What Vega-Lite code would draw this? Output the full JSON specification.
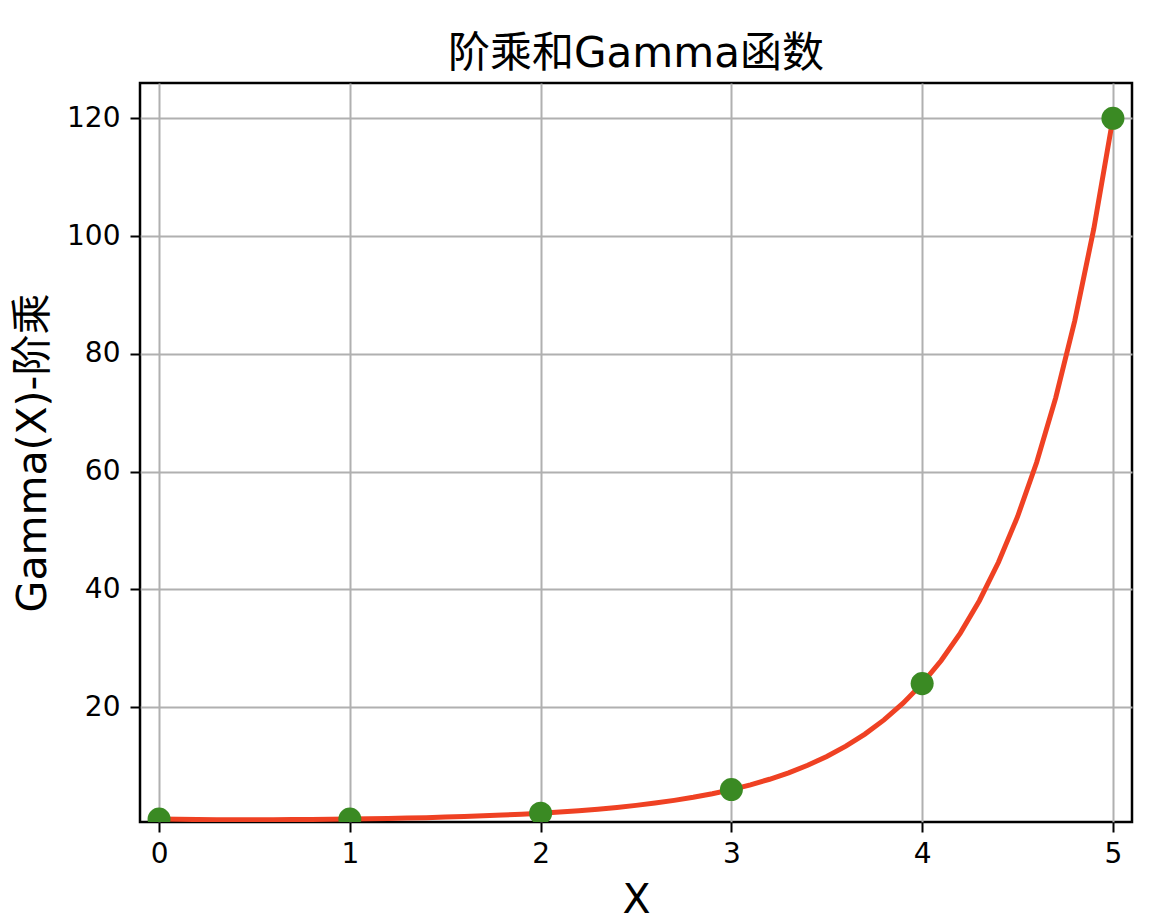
{
  "$schema": "https://vega.github.io/schema/vega-lite/v6.json",
  "width": 992,
  "height": 739,
  "autosize": {"type": "none"},
  "padding": {"left": 140, "top": 83, "right": 36, "bottom": 102},
  "background": "white",
  "config": {
    "font": "DejaVu Sans, Noto Sans CJK SC",
    "view": {"stroke": "black", "strokeWidth": 2.5},
    "axis": {
      "domain": false,
      "grid": true,
      "gridColor": "#b0b0b0",
      "gridWidth": 2,
      "tickColor": "black",
      "tickWidth": 2,
      "tickSize": 10,
      "labelFont": "DejaVu Sans",
      "labelFontSize": 28,
      "labelColor": "black",
      "titleFont": "DejaVu Sans, Noto Sans CJK SC",
      "titleFontSize": 41,
      "titleFontWeight": "normal",
      "titleColor": "black"
    }
  },
  "title": {
    "text": "阶乘和Gamma函数",
    "font": "DejaVu Sans, Noto Sans CJK SC",
    "fontSize": 42,
    "fontWeight": "normal",
    "color": "black",
    "anchor": "middle",
    "frame": "group",
    "baseline": "alphabetic",
    "offset": 15,
    "dy": 41
  },
  "datasets": {
    "curve": [
      {"x": 0.0, "g": 1.0}, {"x": 0.1, "g": 0.9514}, {"x": 0.2, "g": 0.9182}, {"x": 0.3, "g": 0.8975},
      {"x": 0.4, "g": 0.8873}, {"x": 0.5, "g": 0.8862}, {"x": 0.6, "g": 0.8935}, {"x": 0.7, "g": 0.9086},
      {"x": 0.8, "g": 0.9314}, {"x": 0.9, "g": 0.9618}, {"x": 1.0, "g": 1.0}, {"x": 1.1, "g": 1.0465},
      {"x": 1.2, "g": 1.1018}, {"x": 1.3, "g": 1.1667}, {"x": 1.4, "g": 1.2422}, {"x": 1.5, "g": 1.3293},
      {"x": 1.6, "g": 1.4296}, {"x": 1.7, "g": 1.5447}, {"x": 1.8, "g": 1.6765}, {"x": 1.9, "g": 1.8274},
      {"x": 2.0, "g": 2.0}, {"x": 2.1, "g": 2.1976}, {"x": 2.2, "g": 2.424}, {"x": 2.3, "g": 2.6834},
      {"x": 2.4, "g": 2.9813}, {"x": 2.5, "g": 3.3234}, {"x": 2.6, "g": 3.717}, {"x": 2.7, "g": 4.1707},
      {"x": 2.8, "g": 4.6942}, {"x": 2.9, "g": 5.2995}, {"x": 3.0, "g": 6.0}, {"x": 3.1, "g": 6.8126},
      {"x": 3.2, "g": 7.7568}, {"x": 3.3, "g": 8.8552}, {"x": 3.4, "g": 10.1364}, {"x": 3.5, "g": 11.6317},
      {"x": 3.6, "g": 13.3813}, {"x": 3.7, "g": 15.4314}, {"x": 3.8, "g": 17.8379}, {"x": 3.9, "g": 20.668},
      {"x": 4.0, "g": 24.0}, {"x": 4.1, "g": 27.9317}, {"x": 4.2, "g": 32.5786}, {"x": 4.3, "g": 38.0775},
      {"x": 4.4, "g": 44.6003}, {"x": 4.5, "g": 52.3428}, {"x": 4.6, "g": 61.5539}, {"x": 4.7, "g": 72.5276},
      {"x": 4.8, "g": 85.6217}, {"x": 4.9, "g": 101.2733}, {"x": 5.0, "g": 120.0}
    ],
    "points": [
      {"x": 0, "g": 1}, {"x": 1, "g": 1}, {"x": 2, "g": 2},
      {"x": 3, "g": 6}, {"x": 4, "g": 24}, {"x": 5, "g": 120}
    ]
  },
  "encoding": {
    "x": {
      "field": "x",
      "type": "quantitative",
      "scale": {"domain": [-0.1, 5.1], "nice": false, "zero": false},
      "axis": {"values": [0, 1, 2, 3, 4, 5], "format": "d", "title": "X", "labelPadding": 8, "titlePadding": 12}
    },
    "y": {
      "field": "g",
      "type": "quantitative",
      "scale": {"domain": [0.5, 126], "nice": false, "zero": false},
      "axis": {"values": [20, 40, 60, 80, 100, 120], "format": "d", "title": "Gamma(X)-阶乘", "labelPadding": 10, "titlePadding": 12}
    }
  },
  "layer": [
    {
      "data": {"name": "curve"},
      "mark": {"type": "line", "color": "#ef4123", "strokeWidth": 5, "clip": true}
    },
    {
      "data": {"name": "points"},
      "mark": {"type": "circle", "color": "#3a8a23", "opacity": 1, "size": 530, "clip": true}
    }
  ]
}
